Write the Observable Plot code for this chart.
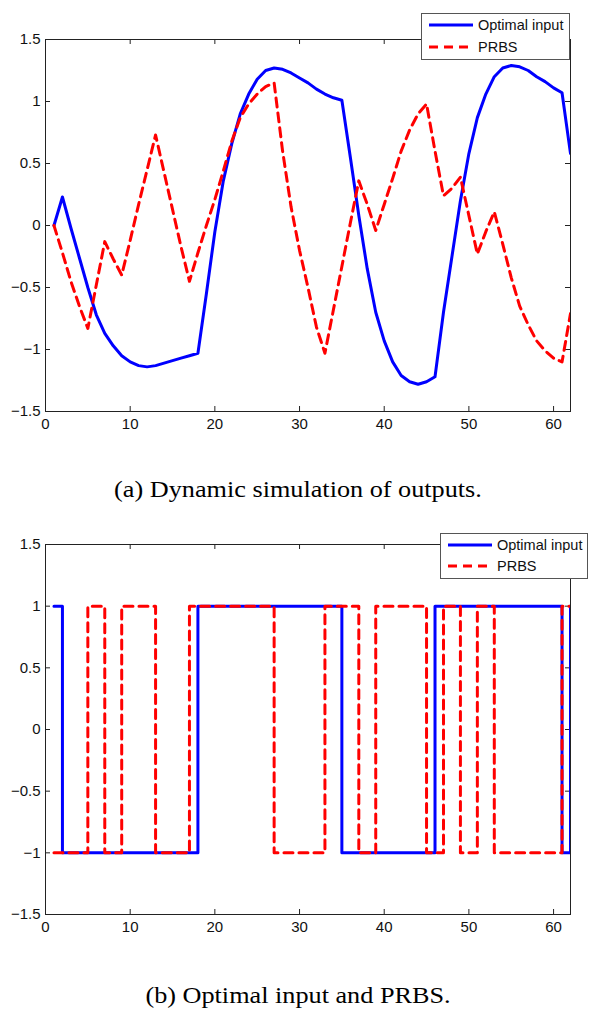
<!DOCTYPE html>
<html><head><meta charset="utf-8">
<script src="https://cdn.jsdelivr.net/npm/d3@7"></script>
<script src="https://cdn.jsdelivr.net/npm/@observablehq/plot@0.6"></script>
<style>
html,body{margin:0;padding:0;background:#fff}
body{width:602px;height:1025px;position:relative;overflow:hidden;font-family:"Liberation Sans",Arial,sans-serif}
.panel{position:absolute;left:0}
.cap{position:absolute;left:-3px;width:602px;text-align:center;font-family:"Liberation Serif","Times New Roman",serif;font-size:23px;line-height:23px;color:#000;transform:scaleX(1.14);transform-origin:center}
.legend{position:absolute;background:#fff;border:1px solid #555;box-sizing:border-box}
.legend svg{display:block}
</style>
</head><body>
<div id="p1" class="panel" style="top:0px"></div>
<div id="p2" class="panel" style="top:505px"></div>
<div class="cap" style="top:478px">(a) Dynamic simulation of outputs.</div>
<div class="cap" style="top:984px">(b) Optimal input and PRBS.</div>
<div id="leg1" class="legend" style="left:421px;top:13px;width:149px;height:47px"></div>
<div id="leg2" class="legend" style="left:440px;top:533px;width:148px;height:46px"></div>
<script>
// ---- data ----
const t = d3.range(1, 63);
const seriesNames = ["Optimal input", "PRBS"];
const xTicks = [0, 10, 20, 30, 40, 50, 60];
const yTicks = [-1.5, -1, -0.5, 0, 0.5, 1, 1.5];
const yTickLabels = ["\u22121.5", "\u22121", "\u22120.5", "0", "0.5", "1", "1.5"];

// (a) outputs
const outOptimal = [
  0, 0.23, -0.02, -0.26, -0.5, -0.72, -0.87, -0.97, -1.05, -1.1,
  -1.13, -1.14, -1.13, -1.11, -1.09, -1.07, -1.05, -1.03, -0.55, -0.05,
  0.36, 0.66, 0.9, 1.06, 1.18, 1.25, 1.27, 1.26, 1.23, 1.19,
  1.15, 1.1, 1.06, 1.03, 1.01, 0.55, 0.08, -0.35, -0.7, -0.93,
  -1.1, -1.21, -1.26, -1.28, -1.26, -1.22, -0.7, -0.25, 0.2, 0.58,
  0.87, 1.06, 1.2, 1.27, 1.29, 1.28, 1.25, 1.2, 1.16, 1.11,
  1.07, 0.58
];
const outPRBS = [
  0, -0.22, -0.45, -0.65, -0.83, -0.48, -0.13, -0.27, -0.4, -0.12,
  0.17, 0.45, 0.73, 0.43, 0.13, -0.17, -0.45, -0.22, 0.0, 0.21,
  0.44, 0.68, 0.87, 0.98, 1.06, 1.12, 1.15, 0.6, 0.15, -0.2,
  -0.5, -0.82, -1.03, -0.68, -0.33, 0.02, 0.36, 0.17, -0.04, 0.17,
  0.38, 0.6, 0.77, 0.9, 0.98, 0.6, 0.24, 0.3, 0.39, 0.08,
  -0.23, -0.05, 0.11, -0.15, -0.42, -0.65, -0.8, -0.93, -1.01, -1.07,
  -1.1, -0.71
];

// (b) inputs
const inOptimal = [
  1, -1, -1, -1, -1, -1, -1, -1, -1, -1,
  -1, -1, -1, -1, -1, -1, -1, 1, 1, 1,
  1, 1, 1, 1, 1, 1, 1, 1, 1, 1,
  1, 1, 1, 1, -1, -1, -1, -1, -1, -1,
  -1, -1, -1, -1, -1, 1, 1, 1, 1, 1,
  1, 1, 1, 1, 1, 1, 1, 1, 1, 1,
  -1, 1
];
const inPRBS = [
  -1, -1, -1, -1, 1, 1, -1, -1, 1, 1,
  1, 1, -1, -1, -1, -1, 1, 1, 1, 1,
  1, 1, 1, 1, 1, 1, -1, -1, -1, -1,
  -1, -1, 1, 1, 1, 1, -1, -1, 1, 1,
  1, 1, 1, 1, -1, -1, 1, 1, -1, -1,
  1, 1, -1, -1, -1, -1, -1, -1, -1, -1,
  1, 1
];

const colors = ["#0000ff", "#ff0000"];
const dash = [null, "9,6"];

function makePlot(vals1, vals2, curve, marginBottom) {
  const W = 602, H = 440, mL = 45, mR = 32, mT = 39;
  const innerH = H - mT - marginBottom, innerW = W - mL - mR;
  const rows1 = t.map((x, i) => ({t: x, v: vals1[i]}));
  const rows2 = t.map((x, i) => ({t: x, v: vals2[i]}));
  return Plot.plot({
    width: W, height: H,
    marginLeft: mL, marginRight: mR, marginTop: mT, marginBottom: marginBottom,
    style: {fontFamily: '"Liberation Sans", Arial, sans-serif', fontSize: "15px", color: "#111", background: "#fff", overflow: "visible"},
    x: {domain: [0, 62], ticks: xTicks, tickSize: 0, tickPadding: 7, label: null, tickFormat: d => String(d)},
    y: {domain: [-1.5, 1.5], ticks: yTicks, tickSize: 0, tickPadding: 5, label: null,
        tickFormat: d => yTickLabels[yTicks.indexOf(d)]},
    marks: [
      Plot.frame({stroke: "#222", strokeWidth: 1}),
      Plot.tickX(xTicks, {x: d => d, insetTop: innerH - 5, stroke: "#222"}),
      Plot.tickX(xTicks, {x: d => d, insetBottom: innerH - 5, stroke: "#222"}),
      Plot.tickY(yTicks, {y: d => d, insetRight: innerW - 5, stroke: "#222"}),
      Plot.tickY(yTicks, {y: d => d, insetLeft: innerW - 5, stroke: "#222"}),
      Plot.line(rows1, {x: "t", y: "v", stroke: colors[0], strokeWidth: 3, curve, clip: true}),
      Plot.line(rows2, {x: "t", y: "v", stroke: colors[1], strokeWidth: 3, strokeDasharray: dash[1], curve, clip: true})
    ]
  });
}

document.getElementById("p1").appendChild(makePlot(outOptimal, outPRBS, "linear", 29));
document.getElementById("p2").appendChild(makePlot(inOptimal, inPRBS, "step-after", 31));

function legend(id, w, rows) {
  const ns = "http://www.w3.org/2000/svg";
  const svg = document.createElementNS(ns, "svg");
  svg.setAttribute("width", w - 2);
  svg.setAttribute("height", 44);
  seriesNames.forEach((name, i) => {
    const y = rows[i];
    const ln = document.createElementNS(ns, "line");
    ln.setAttribute("x1", 7); ln.setAttribute("x2", 51);
    ln.setAttribute("y1", y); ln.setAttribute("y2", y);
    ln.setAttribute("stroke", colors[i]); ln.setAttribute("stroke-width", 3);
    if (dash[i]) ln.setAttribute("stroke-dasharray", dash[i]);
    svg.appendChild(ln);
    const tx = document.createElementNS(ns, "text");
    tx.setAttribute("x", 56); tx.setAttribute("y", y);
    tx.setAttribute("dy", "0.35em");
    tx.setAttribute("font-size", "14.5px");
    tx.setAttribute("font-family", '"Liberation Sans", Arial, sans-serif');
    tx.setAttribute("fill", "#111");
    tx.textContent = name;
    svg.appendChild(tx);
  });
  document.getElementById(id).appendChild(svg);
}
legend("leg1", 149, [11, 33]);
legend("leg2", 148, [11, 32]);
</script>
</body></html>
